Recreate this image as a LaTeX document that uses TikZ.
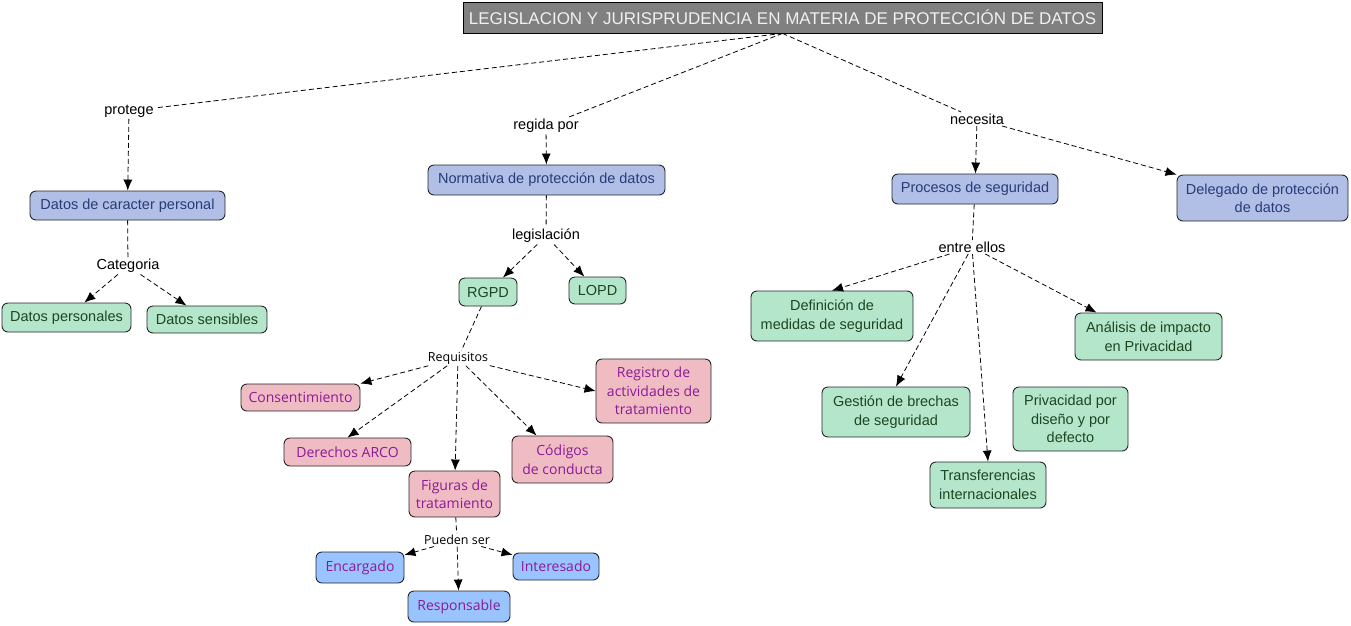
\documentclass[tikz,border=0pt]{standalone}
\usepackage{fontspec}
\setmainfont{Liberation Sans}
\newfontfamily\opensans{Open Sans}
\usetikzlibrary{arrows.meta}

\definecolor{titlegray}{HTML}{808080}
\definecolor{lavender}{HTML}{B1BEE6}
\definecolor{navytext}{HTML}{283C78}
\definecolor{mint}{HTML}{B4E6CC}
\definecolor{forest}{HTML}{1E4620}
\definecolor{rose}{HTML}{F0BCC4}
\definecolor{plum}{HTML}{8C1A96}
\definecolor{sky}{HTML}{99C4FF}

\tikzset{
  concept/.style={draw=black!85, line width=0.9pt, rounded corners=6pt, align=center, inner sep=2pt,
    font=\fontsize{14.5}{18.5}\selectfont},
  bluebox/.style={concept, fill=lavender, text=navytext},
  greenbox/.style={concept, fill=mint, text=forest},
  pinkbox/.style={concept, fill=rose, text=plum, font=\opensans\fontsize{14}{18.5}\selectfont},
  skybox/.style={concept, fill=sky, text=plum, font=\opensans\fontsize{14}{18.5}\selectfont},
  linkword/.style={fill=white, inner sep=1.5pt, font=\fontsize{14.5}{17}\selectfont},
  linkwordos/.style={fill=white, inner sep=1.5pt, font=\opensans\fontsize{12.5}{15}\selectfont},
  link/.style={draw=black, line width=0.8pt, dash pattern=on 5pt off 3pt},
  arrowlink/.style={link, -{Latex[length=11pt,width=9pt]}}
}

\begin{document}
\begin{tikzpicture}[x=1pt, y=-1pt]
			%%%%% FRAME %%%%%
			\useasboundingbox (0, 0) rectangle (1351, 625);
			
			%%%%% TITLE %%%%%
			\node[draw=black, line width=0.8pt, fill=titlegray, text=white!94!black, minimum width=639pt, minimum height=31pt,
			      font=\fontsize{17}{19}\selectfont] (title) at (782.5, 17.5) {LEGISLACION Y JURISPRUDENCIA EN MATERIA DE PROTECCIÓN DE DATOS};
			
			%%%%% CONCEPTS %%%%%
			\node[bluebox, minimum width=195pt, minimum height=29pt] (caracter) at (127.5, 205.5) {Datos de caracter personal};
			\node[greenbox, minimum width=129pt, minimum height=29pt] (personales) at (66.5, 317.5) {Datos personales};
			\node[greenbox, minimum width=120pt, minimum height=27pt] (sensibles) at (207, 319.5) {Datos sensibles};
			
			\node[bluebox, minimum width=237pt, minimum height=30pt] (normativa) at (546.5, 180) {Normativa de protección de datos};
			\node[greenbox, minimum width=58pt, minimum height=28pt] (rgpd) at (488, 292) {RGPD};
			\node[greenbox, minimum width=57pt, minimum height=27pt] (lopd) at (597.5, 290.5) {LOPD};
			
			\node[pinkbox, minimum width=119pt, minimum height=27pt] (consent) at (300.5, 397.5) {Consentimiento};
			\node[pinkbox, minimum width=127pt, minimum height=28pt] (arco) at (347.5, 452) {Derechos ARCO};
			\node[pinkbox, minimum width=91pt, minimum height=46pt] (figuras) at (454.5, 494) {Figuras de\\tratamiento};
			\node[pinkbox, minimum width=101pt, minimum height=47pt] (codigos) at (562.5, 459.5) {Códigos\\de conducta};
			\node[pinkbox, minimum width=115pt, minimum height=64pt] (registro) at (653.5, 391) {Registro de\\actividades de\\tratamiento};
			
			\node[skybox, minimum width=88pt, minimum height=31pt] (encargado) at (360, 567.5) {Encargado};
			\node[skybox, minimum width=86pt, minimum height=27pt] (interesado) at (556, 566.5) {Interesado};
			\node[skybox, minimum width=102pt, minimum height=31pt] (responsable) at (459, 606.5) {Responsable};
			
			\node[bluebox, minimum width=166pt, minimum height=30pt] (procesos) at (975, 189) {Procesos de seguridad};
			\node[bluebox, minimum width=171pt, minimum height=46pt] (delegado) at (1262.5, 198) {Delegado de protección\\de datos};
			
			\node[greenbox, minimum width=162pt, minimum height=50pt] (definicion) at (832, 316) {Definición de\\medidas de seguridad};
			\node[greenbox, minimum width=147pt, minimum height=47pt] (analisis) at (1148.5, 336.5) {Análisis de impacto\\en Privacidad};
			\node[greenbox, minimum width=148pt, minimum height=50pt] (gestion) at (896, 412) {Gestión de brechas\\de seguridad};
			\node[greenbox, minimum width=115pt, minimum height=64pt] (privacidad) at (1070.5, 419) {Privacidad por\\diseño y por\\defecto};
			\node[greenbox, minimum width=116pt, minimum height=46pt] (transfer) at (988, 485) {Transferencias\\internacionales};
			
			%%%%% LINKING WORDS %%%%%
			\node[linkword] (protege) at (129, 111) {protege};
			\node[linkword] (regida) at (546, 126) {regida por};
			\node[linkword] (necesita) at (977, 119) {necesita};
			\node[linkword] (legislacion) at (546, 236) {legislación};
			\node[linkword] (categoria) at (128, 266) {Categoria};
			\node[linkword] (entre) at (972, 247) {entre ellos};
			\node[linkwordos] (requisitos) at (458, 358) {Requisitos};
			\node[linkwordos] (pueden) at (457, 540) {Pueden ser};
			
			%%%%% CONNECTORS %%%%%
			\draw[link] (title.south) -- (protege);
			\draw[link] (title.south) -- (regida);
			\draw[link] (title.south) -- (necesita);
			
			\draw[arrowlink] (protege) -- (caracter);
			\draw[arrowlink] (regida) -- (normativa);
			\draw[arrowlink] (necesita) -- (procesos);
			\draw[arrowlink] (necesita) -- (delegado.north west);
			
			\draw[link] (caracter) -- (categoria);
			\draw[arrowlink] (categoria) -- (personales);
			\draw[arrowlink] (categoria) -- (sensibles);
			
			\draw[link] (normativa) -- (legislacion);
			\draw[arrowlink] (legislacion) -- (rgpd);
			\draw[arrowlink] (legislacion) -- (lopd);
			
			\draw[link] (rgpd) -- (requisitos);
			\draw[arrowlink] (requisitos) -- (consent.north east);
			\draw[arrowlink] (requisitos) -- (arco.north);
			\draw[arrowlink] (requisitos) -- (figuras);
			\draw[arrowlink] (requisitos) -- ([xshift=25pt]codigos.north west);
			\draw[arrowlink] (requisitos) -- (registro.west);
			
			\draw[link] (figuras) -- (pueden);
			\foreach \target in {encargado, responsable, interesado}
			  \draw[arrowlink] (pueden) -- (\target);
			
			\draw[link] (procesos) -- (entre);
			\foreach \target in {definicion, gestion, transfer}
			  \draw[arrowlink] (entre) -- (\target.north);
			\draw[arrowlink] (entre) -- ([xshift=22pt]analisis.north west);
			
			%%%%% END %%%%%
\end{tikzpicture}
\end{document}
